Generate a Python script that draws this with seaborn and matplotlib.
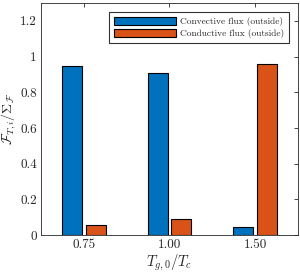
import matplotlib
matplotlib.use('Agg')
from matplotlib import pyplot as plt
import pandas as pd
import seaborn as sns

# Chart data
temp_ratios = ['0.75', '1.00', '1.50']
convective = [0.948, 0.91, 0.045]
conductive = [0.055, 0.09, 0.958]
series_names = ['Convective flux (outside)', 'Conductive flux (outside)']
y_ticks = [0, 0.2, 0.4, 0.6, 0.8, 1.0, 1.2]
y_tick_labels = ['0', '0.2', '0.4', '0.6', '0.8', '1', '1.2']

# Long-form table for seaborn
df = pd.DataFrame({
    'ratio': temp_ratios * 2,
    'share': convective + conductive,
    'flux': [series_names[0]] * 3 + [series_names[1]] * 3,
})

sns.set_style('white')
plt.rcParams['font.family'] = ['cmr10', 'DejaVu Serif']
plt.rcParams['mathtext.fontset'] = 'cm'
plt.rcParams['axes.formatter.use_mathtext'] = True

fig = plt.figure(figsize=(3.0, 2.73), dpi=100)
ax = fig.add_axes([0.137, 0.139, 0.856, 0.85])

sns.barplot(data=df, x='ratio', y='share', hue='flux', order=temp_ratios,
            hue_order=series_names, palette=['#0072BD', '#D95319'],
            width=0.55, gap=0.15, edgecolor='black', linewidth=0.8,
            saturation=1, ax=ax)

# Axes settings (MATLAB-like box with inward ticks)
ax.set_xlim(-0.5, 2.5)
ax.set_ylim(0, 1.3)
ax.set_yticks(y_ticks)
ax.set_yticklabels(y_tick_labels)
ax.tick_params(axis='both', direction='in', length=3, width=0.6, pad=3,
               top=True, right=True, labelsize=9.5, colors='#262626')
for spine in ax.spines.values():
    spine.set_visible(True)
    spine.set_linewidth(0.6)
    spine.set_color('#262626')

ax.set_xlabel(r'$T_{g,0}/T_c$', fontsize=10.5, labelpad=1)
ax.set_ylabel(r'$\mathcal{F}_{T,i}/\Sigma_{\mathcal{F}}$', fontsize=10)
ax.yaxis.set_label_coords(-0.09, 0.5)

leg = ax.legend(loc='upper right', fontsize=6.8, frameon=True, fancybox=False,
                edgecolor='black', borderpad=0.55, handlelength=6.6,
                handleheight=0.9, handletextpad=0.4, labelspacing=0.3,
                borderaxespad=0.9)
leg.get_frame().set_linewidth(0.8)

fig.savefig('out.png', dpi=100)
plt.close(fig)
